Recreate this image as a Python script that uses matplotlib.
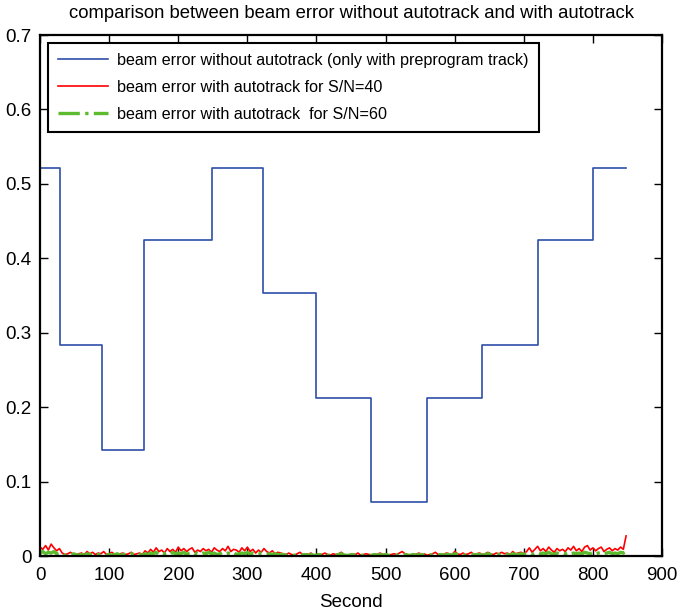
import numpy as np
import matplotlib
matplotlib.use("Agg")
import matplotlib.pyplot as plt

plt.rcParams['font.family'] = ['Liberation Sans', 'DejaVu Sans']

# step changes of beam error without autotrack
step_t = [0, 29, 89, 150, 249, 323, 399, 479, 560, 640, 720, 800, 848]
step_err = [0.522, 0.284, 0.143, 0.424, 0.522, 0.353, 0.212, 0.072,
            0.212, 0.284, 0.424, 0.522, 0.522]

# autotrack error, sampled every 4 s (0..848)
sample_dt = 4
err_sn40 = [
    0.012, 0.009, 0.014, 0.008, 0.016, 0.011, 0.007, 0.010,
    0.004, 0.002, 0.003, 0.005, 0.002, 0.001, 0.003, 0.004, 0.002, 0.006,
    0.003, 0.005, 0.002, 0.004, 0.003, 0.006, 0.002, 0.003, 0.005, 0.002,
    0.001, 0.003, 0.004, 0.002, 0.003, 0.005, 0.002, 0.003, 0.004, 0.002,
    0.007, 0.004, 0.009, 0.005, 0.011, 0.006, 0.008, 0.004, 0.010, 0.006,
    0.009, 0.005, 0.012, 0.007, 0.010, 0.006, 0.009, 0.011, 0.005, 0.008,
    0.006, 0.010, 0.007, 0.009, 0.005, 0.011, 0.008, 0.006, 0.010, 0.007,
    0.013, 0.006, 0.009, 0.008, 0.005, 0.011, 0.007, 0.012, 0.006, 0.009,
    0.004, 0.008, 0.005, 0.010, 0.006, 0.004, 0.007, 0.003, 0.005, 0.004,
    0.003, 0.002, 0.004, 0.002, 0.001, 0.003, 0.005, 0.002, 0.003, 0.002,
    0.004, 0.001, 0.002, 0.003, 0.002, 0.004, 0.002, 0.001, 0.003, 0.002,
    0.003, 0.005, 0.002, 0.001, 0.002, 0.003, 0.002, 0.004, 0.001, 0.002,
    0.003, 0.002, 0.001, 0.003, 0.002, 0.004, 0.002, 0.003, 0.001, 0.002,
    0.003, 0.002, 0.004, 0.006, 0.003, 0.002, 0.001, 0.003, 0.002, 0.004,
    0.002, 0.003, 0.001, 0.002, 0.003, 0.005, 0.002, 0.003, 0.002, 0.004,
    0.003, 0.002, 0.006, 0.003, 0.002, 0.004, 0.002, 0.003, 0.005, 0.002,
    0.003, 0.004, 0.002, 0.003, 0.005, 0.003, 0.002, 0.004, 0.003, 0.005,
    0.003, 0.004, 0.002, 0.006, 0.003, 0.004, 0.005, 0.003,
    0.006, 0.011, 0.005, 0.009, 0.013, 0.007, 0.010, 0.006, 0.012, 0.008,
    0.005, 0.010, 0.007, 0.009, 0.006, 0.011, 0.008, 0.013, 0.007, 0.010,
    0.006, 0.012, 0.014, 0.008, 0.011, 0.007, 0.010, 0.012, 0.006, 0.009,
    0.011, 0.007, 0.010, 0.008, 0.012, 0.009, 0.027,
]
err_sn60 = [
    0.004, 0.006, 0.003, 0.005, 0.004, 0.006, 0.003, 0.004,
    0.002, 0.001, 0.002, 0.001, 0.003, 0.002, 0.001, 0.002, 0.001, 0.003,
    0.002, 0.001, 0.001, 0.002, 0.002, 0.003, 0.001, 0.002, 0.001, 0.002,
    0.003, 0.001, 0.002, 0.002, 0.001, 0.003, 0.002, 0.001, 0.002, 0.001,
    0.003, 0.002, 0.004, 0.003, 0.005, 0.002, 0.004, 0.003, 0.004, 0.002,
    0.005, 0.003, 0.004, 0.003, 0.005, 0.002, 0.004, 0.005, 0.003, 0.004,
    0.002, 0.004, 0.003, 0.005, 0.003, 0.004, 0.002, 0.003, 0.005, 0.003,
    0.004, 0.003, 0.005, 0.002, 0.003, 0.004, 0.003, 0.005, 0.002, 0.004,
    0.003, 0.002, 0.004, 0.003, 0.002, 0.003, 0.002, 0.003, 0.002, 0.002,
    0.002, 0.001, 0.002, 0.001, 0.001, 0.002, 0.003, 0.001, 0.002, 0.001,
    0.002, 0.001, 0.001, 0.002, 0.001, 0.002, 0.001, 0.001, 0.002, 0.001,
    0.002, 0.003, 0.001, 0.001, 0.001, 0.002, 0.001, 0.002, 0.001, 0.001,
    0.002, 0.001, 0.001, 0.002, 0.001, 0.002, 0.001, 0.002, 0.001, 0.001,
    0.002, 0.001, 0.002, 0.003, 0.002, 0.001, 0.001, 0.002, 0.001, 0.002,
    0.001, 0.002, 0.001, 0.001, 0.002, 0.003, 0.001, 0.002, 0.001, 0.002,
    0.002, 0.001, 0.003, 0.002, 0.001, 0.002, 0.001, 0.002, 0.003, 0.001,
    0.002, 0.002, 0.001, 0.002, 0.003, 0.002, 0.001, 0.002, 0.002, 0.003,
    0.002, 0.002, 0.001, 0.003, 0.002, 0.002, 0.003, 0.002,
    0.003, 0.004, 0.002, 0.004, 0.005, 0.003, 0.004, 0.003, 0.005, 0.003,
    0.002, 0.004, 0.003, 0.004, 0.003, 0.005, 0.003, 0.004, 0.003, 0.004,
    0.003, 0.005, 0.004, 0.003, 0.005, 0.003, 0.004, 0.005, 0.003, 0.004,
    0.005, 0.003, 0.004, 0.003, 0.005, 0.004, 0.006,
]

x_ticks = [0, 100, 200, 300, 400, 500, 600, 700, 800, 900]
y_ticks = [0, 0.1, 0.2, 0.3, 0.4, 0.5, 0.6, 0.7]

t_auto = np.arange(len(err_sn40)) * sample_dt

fig = plt.figure(figsize=(6.79, 6.10), dpi=100)
ax = fig.add_axes([0.059, 0.0885, 0.916, 0.854])

ax.step(step_t, step_err, where='post', color='#2f4fa8', linewidth=1.2,
        label='beam error without autotrack (only with preprogram track)')
ax.plot(t_auto, err_sn40, color='#ff0000', linewidth=1.2,
        label='beam error with autotrack for S/N=40')
ax.plot(t_auto, err_sn60, color='#5dbb2f', linewidth=2.4, linestyle='-.',
        label='beam error with autotrack  for S/N=60')

ax.set_xlim(0, 900)
ax.set_ylim(0, 0.7)
ax.set_xticks(x_ticks)
ax.set_yticks(y_ticks)
ax.set_yticklabels(['0', '0.1', '0.2', '0.3', '0.4', '0.5', '0.6', '0.7'])
ax.tick_params(axis='both', direction='in', length=6, width=1.0,
               top=True, right=True, labelsize=13.5)
ax.tick_params(axis='x', pad=8)
ax.tick_params(axis='y', pad=6)
for sp in ax.spines.values():
    sp.set_linewidth(1.6)

ax.set_title('comparison between beam error without autotrack and with autotrack',
             fontsize=13.3, pad=12)
ax.set_xlabel('Second', fontsize=13.5, labelpad=7)

leg = ax.legend(loc='upper left', fontsize=11.6, handlelength=3.1,
                handletextpad=0.6, frameon=True, fancybox=False,
                borderaxespad=0.5, labelspacing=0.75, borderpad=0.6)
leg.get_frame().set_edgecolor('black')
leg.get_frame().set_linewidth(1.5)
leg.get_frame().set_alpha(1)

fig.savefig('out.png', dpi=100)
